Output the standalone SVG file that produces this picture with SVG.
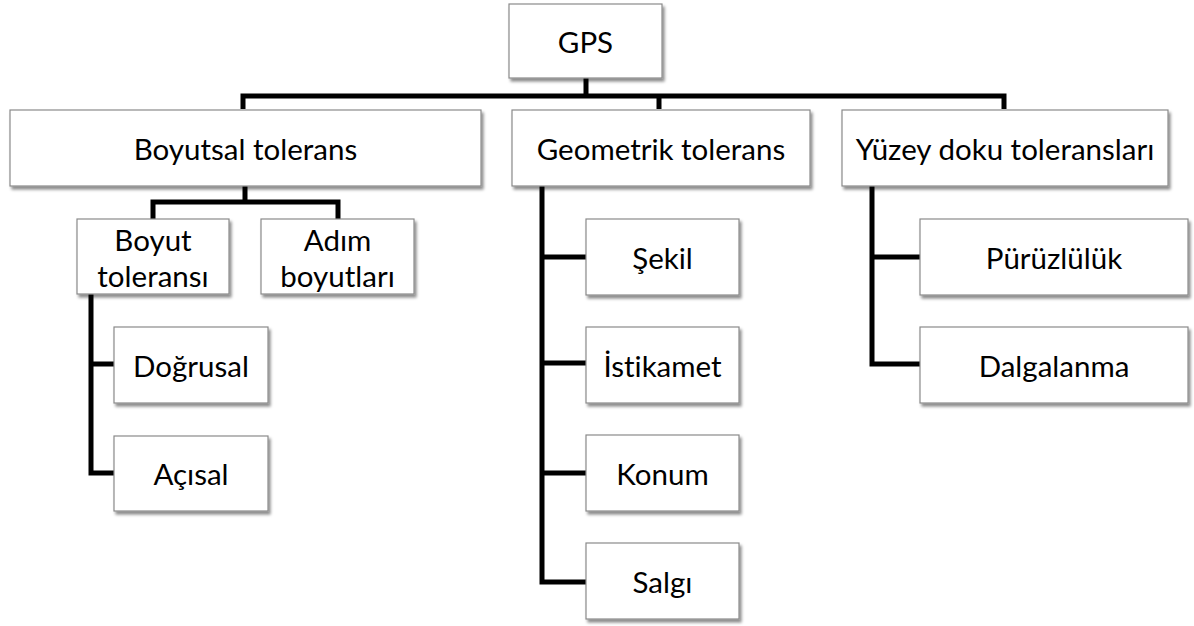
<svg xmlns="http://www.w3.org/2000/svg" width="1194" height="626" viewBox="0 0 1194 626">
<defs>
<filter id="sh" x="-10%" y="-10%" width="130%" height="140%">
<feDropShadow dx="2" dy="3" stdDeviation="1.5" flood-color="#000" flood-opacity="0.45"/>
</filter>
<style>
.box{fill:#fff;stroke:#8a8a8a;stroke-width:1.2;filter:url(#sh)}
.t{font-family:Lato,"Liberation Sans",sans-serif;font-size:29.5px;fill:#000;text-anchor:middle;dominant-baseline:central;font-variant-ligatures:none;font-feature-settings:"liga" 0}
.c{fill:none;stroke:#000;stroke-width:5;stroke-linejoin:miter;stroke-linecap:butt}
</style>
</defs>
<rect width="1194" height="626" fill="#fff"/>
<g id="connectors">
<path class="c" d="M586 78V96M243 109V96H1004V109M659 96V109"/>
<path class="c" d="M245 185V202M153 219V202H338V219"/>
<path class="c" d="M91 294V473H114M91 364H114"/>
<path class="c" d="M542 185V582H586M542 257H586M542 363H586M542 473H586"/>
<path class="c" d="M872 185V364H920M872 257H920"/>
</g>
<g id="gps"><rect class="box" x="509" y="4" width="153" height="74"/><text class="t" x="585.5" y="41">GPS</text></g>
<g id="boyutsal"><rect class="box" x="10" y="110" width="471" height="76"/><text class="t" x="245.5" y="148">Boyutsal tolerans</text></g>
<g id="geometrik"><rect class="box" x="512" y="110" width="298" height="76"/><text class="t" x="661" y="148">Geometrik tolerans</text></g>
<g id="yuzey"><rect class="box" x="842" y="110" width="326" height="76"/><text class="t" x="1005" y="148">Yüzey doku toleransları</text></g>
<g id="boyut-toleransi"><rect class="box" x="77" y="219" width="152" height="75"/><text class="t" x="153" y="239">Boyut</text><text class="t" x="153" y="275">toleransı</text></g>
<g id="adim"><rect class="box" x="261" y="219" width="153" height="75"/><text class="t" x="337.5" y="239">Adım</text><text class="t" x="337.5" y="275">boyutları</text></g>
<g id="dogrusal"><rect class="box" x="114" y="327" width="154" height="76"/><text class="t" x="191" y="365">Doğrusal</text></g>
<g id="acisal"><rect class="box" x="114" y="436" width="154" height="75"/><text class="t" x="191" y="473">Açısal</text></g>
<g id="sekil"><rect class="box" x="586" y="219" width="153" height="76"/><text class="t" x="662.5" y="257">Şekil</text></g>
<g id="istikamet"><rect class="box" x="586" y="327" width="153" height="76"/><text class="t" x="662.5" y="365">İstikamet</text></g>
<g id="konum"><rect class="box" x="586" y="435" width="153" height="76"/><text class="t" x="662.5" y="473">Konum</text></g>
<g id="salgi"><rect class="box" x="586" y="543" width="153" height="76"/><text class="t" x="662.5" y="581">Salgı</text></g>
<g id="puruzluluk"><rect class="box" x="920" y="219" width="268" height="76"/><text class="t" x="1054" y="257">Pürüzlülük</text></g>
<g id="dalgalanma"><rect class="box" x="920" y="327" width="268" height="76"/><text class="t" x="1054" y="365">Dalgalanma</text></g>
</svg>
